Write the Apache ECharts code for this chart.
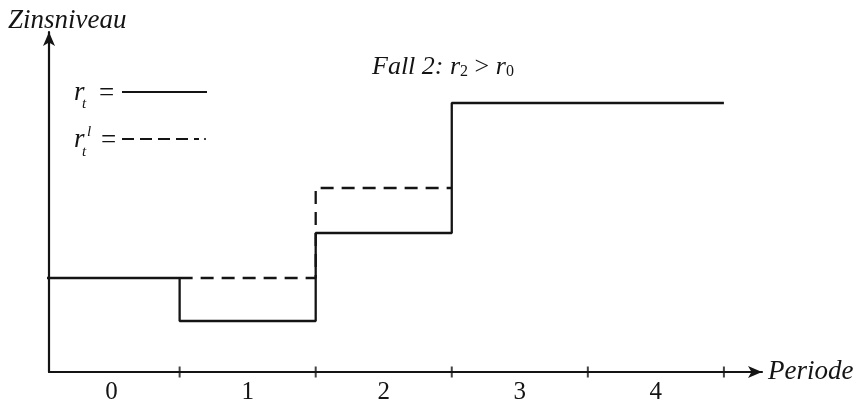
<!DOCTYPE html>
<html><head><meta charset="utf-8">
<script src="https://cdn.jsdelivr.net/npm/echarts@6/dist/echarts.min.js"></script>
<style>html,body{margin:0;padding:0;background:#fff}#c{width:858px;height:401px}</style>
</head><body><div id="c"></div>
<script>
const periods = [0, 1, 2, 3, 4];
const tickLabels = ['0', '1', '2', '3', '4'];
const periodBounds = [0.5, 1.5, 2.5, 3.5, 4.5];
const rt = [9.4, 5.1, 13.9, 26.9, 26.9];       // r_t  (solid)
const rtl = [null, 9.4, 18.4, null, null];     // r_t^l (dashed)

function steps(vals) {
  const pts = [];
  vals.forEach((v, i) => { if (v == null) return; pts.push([periods[i] - 0.5, v], [periods[i] + 0.5, v]); });
  return pts;
}

const FONT = '"Liberation Serif", "Times New Roman", serif';
const INK = '#141414';
const chart = echarts.init(document.getElementById('c'));
chart.setOption({
  animation: false,
  grid: { left: 49, right: 96, top: 32, bottom: 29, containLabel: false, outerBoundsMode: 'none' },
  xAxis: {
    type: 'value', min: -0.46, max: 4.78,
    name: 'Periode', nameLocation: 'end', nameGap: 6,
    nameTextStyle: { fontFamily: FONT, fontStyle: 'italic', fontSize: 27, color: INK, padding: [0, 0, 12, 0] },
    axisLine: { show: true, onZero: false, symbol: ['none', 'arrow'], symbolSize: [9, 14], lineStyle: { color: INK, width: 2.2 } },
    axisTick: { show: false },
    splitLine: { show: false },
    axisLabel: { show: true, customValues: periods, formatter: v => tickLabels[periods.indexOf(Math.round(v))] ?? '',
      fontFamily: FONT, fontSize: 25, color: INK, margin: 8 }
  },
  yAxis: {
    type: 'value', min: 0, max: 34,
    axisLine: { show: true, onZero: false, symbol: ['none', 'arrow'], symbolSize: [9, 14], lineStyle: { color: INK, width: 2.2 } },
    axisTick: { show: false }, axisLabel: { show: false }, splitLine: { show: false }
  },
  series: [
    { type: 'line', data: steps(rt), symbol: 'none', clip: true,
      lineStyle: { color: INK, width: 2.3 } },
    { type: 'line', data: steps(rtl), symbol: 'none', clip: true,
      lineStyle: { color: INK, width: 2.3, type: [13, 8] } },
    { type: 'scatter', data: periodBounds.map(b => [b, 0]), symbol: 'rect', symbolSize: [2, 11], clip: false,
      itemStyle: { color: INK }, silent: true }
  ],
  graphic: [
    { type: 'text', left: 8, top: 7, style: { text: 'Zinsniveau', font: 'italic 27px ' + FONT, fill: INK } },
    { type: 'text', x: 372, y: 67, style: {
      text: '{i|Fall 2: r}{s|2}{n| > }{i|r}{s|0}', verticalAlign: 'middle',
      rich: {
        i: { fontFamily: FONT, fontStyle: 'italic', fontSize: 26, fill: INK },
        n: { fontFamily: FONT, fontSize: 26, fill: INK },
        s: { fontFamily: FONT, fontSize: 16, fill: INK, verticalAlign: 'bottom' }
      } } },
    // legend row 1: r_t = ——
    { type: 'text', x: 74, y: 93, style: { text: 'r', font: 'italic 27px ' + FONT, fill: INK, verticalAlign: 'middle' } },
    { type: 'text', x: 82, y: 104, style: { text: 't', font: 'italic 15px ' + FONT, fill: INK, verticalAlign: 'middle' } },
    { type: 'text', x: 99, y: 94, style: { text: '=', font: '27px ' + FONT, fill: INK, verticalAlign: 'middle' } },
    { type: 'line', shape: { x1: 122, y1: 92, x2: 207, y2: 92 }, style: { stroke: INK, lineWidth: 1.8 } },
    // legend row 2: r_t^l = - - - -
    { type: 'text', x: 74, y: 140, style: { text: 'r', font: 'italic 27px ' + FONT, fill: INK, verticalAlign: 'middle' } },
    { type: 'text', x: 87, y: 132, style: { text: 'l', font: 'italic 15px ' + FONT, fill: INK, verticalAlign: 'middle' } },
    { type: 'text', x: 82, y: 152, style: { text: 't', font: 'italic 15px ' + FONT, fill: INK, verticalAlign: 'middle' } },
    { type: 'text', x: 101, y: 141, style: { text: '=', font: '27px ' + FONT, fill: INK, verticalAlign: 'middle' } },
    { type: 'line', shape: { x1: 122, y1: 139, x2: 199, y2: 139 }, style: { stroke: INK, lineWidth: 1.8, lineDash: [12, 6] } },
    { type: 'circle', shape: { cx: 205, cy: 139, r: 1.1 }, style: { fill: INK } }
  ]
});
</script></body></html>
